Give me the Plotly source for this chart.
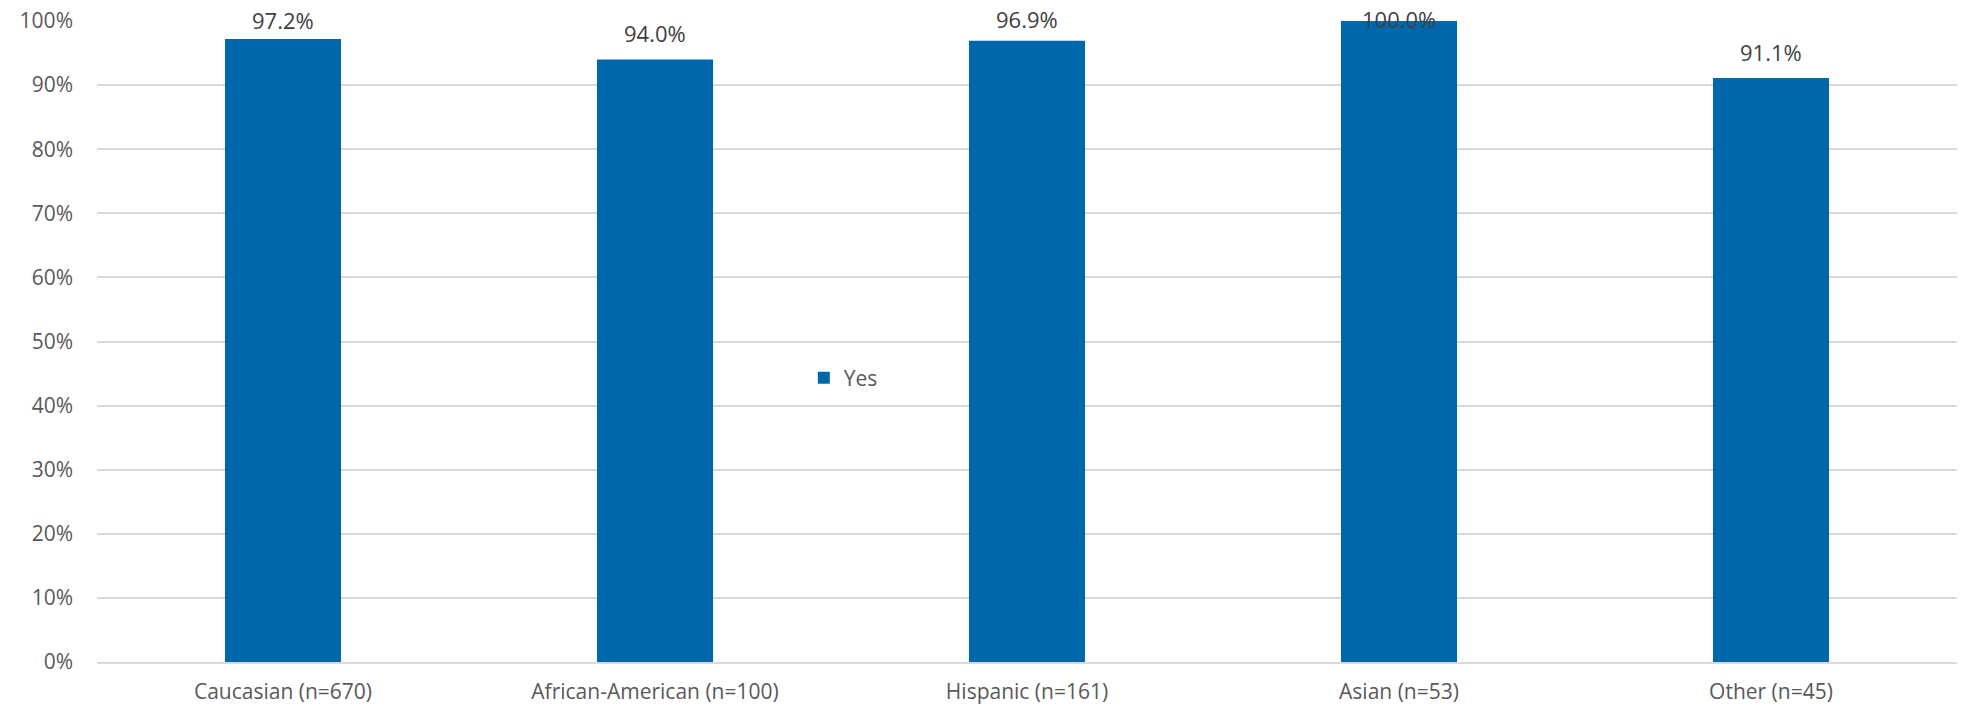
import plotly.graph_objects as go

categories = ["Caucasian (n=670)", "African-American (n=100)", "Hispanic (n=161)", "Asian (n=53)", "Other (n=45)"]
yes_values = [0.972, 0.940, 0.969, 1.000, 0.911]
series_name = "Yes"
y_ticks = [0, 0.1, 0.2, 0.3, 0.4, 0.5, 0.6, 0.7, 0.8, 0.9, 1.0]

W, H = 1967, 710
m_l, m_r, m_t, m_b = 97, 10, 21, 48
plot_h = H - m_t - m_b
FONT = "Open Sans, Liberation Sans, sans-serif"
FS = 21

fig = go.Figure()
fig.add_trace(go.Bar(
    x=categories, y=yes_values, name=series_name,
    marker=dict(color="#0067AB", line=dict(width=0)),
    showlegend=True,
))

# data labels sit ~25px above the bar top, but (like Excel) stay inside the chart area
label_gap = 25       # desired label-centre distance above bar top (px)
anchor_to_centre = 16  # distance from annotation bottom anchor to text centre (px)
min_centre = m_t - 0.5  # highest allowed text centre (px from figure top)
for c, v in zip(categories, yes_values):
    bar_top = m_t + (1 - v) * plot_h
    centre = max(bar_top - label_gap, min_centre)
    shift = bar_top - anchor_to_centre - centre
    fig.add_annotation(x=c, y=v, text=f"{v*100:.1f}%", showarrow=False,
                       yanchor="bottom", yshift=shift,
                       font=dict(family=FONT, size=22, color="#404040"))

fig.update_layout(
    width=W, height=H,
    margin=dict(l=m_l, r=m_r, t=m_t, b=m_b, autoexpand=False),
    plot_bgcolor="white", paper_bgcolor="white",
    bargap=0.688,
    font=dict(family=FONT, size=FS, color="#595959"),
    legend=dict(x=0.380, y=0.443, xanchor="left", yanchor="middle",
                bgcolor="rgba(0,0,0,0)", font=dict(size=FS, color="#595959"),
                itemwidth=30),
    xaxis=dict(showgrid=False, showline=True, linecolor="#D9D9D9", linewidth=2,
               ticks="", tickfont=dict(size=FS, color="#595959"), automargin=False,
               ticklabelstandoff=10),
    yaxis=dict(range=[0, 1], tickvals=y_ticks, tickformat=".0%",
               showgrid=True, gridcolor="#D9D9D9", gridwidth=1.5,
               zeroline=False, showline=False, ticks="", automargin=False,
               tickfont=dict(size=FS, color="#595959"), ticklabelstandoff=23),
)

# remove the page's default body margin so the figure fills the window exactly
fig.write_html("out.html", config={"displayModeBar": False},
               post_script="document.body.style.margin='0';")
